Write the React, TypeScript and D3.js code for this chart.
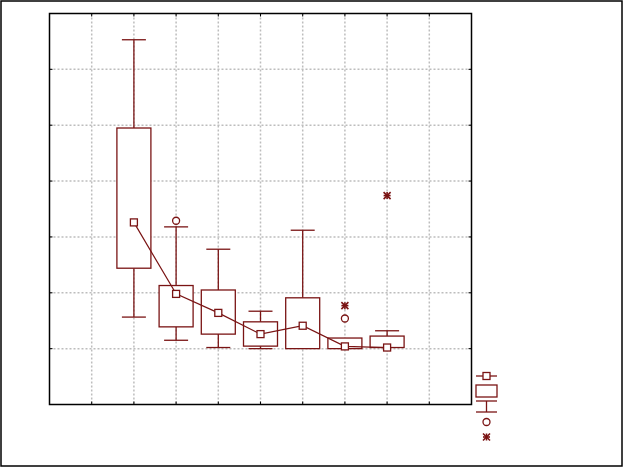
import React from "react";
import * as d3 from "d3";

const categories = ["1", "2", "3", "4", "5", "6", "7"];
const positions = [2, 3, 4, 5, 6, 7, 8];
const means = [2.26, 0.98, 0.64, 0.26, 0.41, 0.04, 0.02];
const q1 = [1.44, 0.39, 0.26, 0.045, 0.0, 0.0, 0.02];
const q3 = [3.95, 1.13, 1.05, 0.48, 0.91, 0.19, 0.225];
const whiskerLow = [0.565, 0.15, 0.02, 0.0, 0.0, 0.0, 0.02];
const whiskerHigh = [5.53, 2.18, 1.78, 0.67, 2.12, 0.19, 0.32];
const outlierCat = [1, 5];
const outlierVal = [2.29, 0.54];
const extremeCat = [5, 6];
const extremeVal = [0.77, 2.74];
const xTicks = [0, 1, 2, 3, 4, 5, 6, 7, 8, 9, 10];
const yTicks = [-1, 0, 1, 2, 3, 4, 5, 6];

const COLOR = "#7a1414";
const W = 624, H = 468;
const L = 49.5, R = 471.5, T = 13.5, B = 404.5;

function Star({ cx, cy }: { cx: number; cy: number }) {
  const s = 3.5;
  return (
    <g stroke={COLOR} strokeWidth={1.6}>
      <line x1={cx - s} y1={cy} x2={cx + s} y2={cy} />
      <line x1={cx} y1={cy - s} x2={cx} y2={cy + s} />
      <line x1={cx - s} y1={cy - s} x2={cx + s} y2={cy + s} />
      <line x1={cx - s} y1={cy + s} x2={cx + s} y2={cy - s} />
    </g>
  );
}

export default function App() {
  const x = d3.scaleLinear().domain([0, 10]).range([L, R]);
  const y = d3.scaleLinear().domain([-1, 6]).range([B, T]);
  const bw = 17, cw = 12, ms = 3.5;
  const line = d3.line<number>().x((_, i) => x(positions[i])).y((d) => y(d));

  return (
    <svg width={W} height={H} style={{ position: "absolute", left: 0, top: 0 }}>
      <rect x={0} y={0} width={W} height={H} fill="#fff" />
      <rect x={1} y={1} width={621} height={465} fill="none" stroke="#000" strokeWidth={1.5} />
      {/* grid */}
      <g stroke="#bdbdbd" strokeWidth={1.5} strokeDasharray="2,2">
        {xTicks.slice(1, -1).map((t) => (
          <line key={"gx" + t} x1={x(t)} x2={x(t)} y1={T} y2={B} />
        ))}
        {yTicks.slice(1, -1).map((t) => (
          <line key={"gy" + t} x1={L} x2={R} y1={y(t)} y2={y(t)} />
        ))}
      </g>
      {/* ticks */}
      <g stroke="#000" strokeWidth={1}>
        {xTicks.slice(1, -1).map((t) => (
          <g key={"tx" + t}>
            <line x1={x(t)} x2={x(t)} y1={T} y2={T + 3} />
            <line x1={x(t)} x2={x(t)} y1={B} y2={B - 3} />
          </g>
        ))}
        {yTicks.slice(1, -1).map((t) => (
          <g key={"ty" + t}>
            <line x1={L} x2={L + 3} y1={y(t)} y2={y(t)} />
            <line x1={R} x2={R - 3} y1={y(t)} y2={y(t)} />
          </g>
        ))}
      </g>
      <rect x={L} y={T} width={R - L} height={B - T} fill="none" stroke="#000" strokeWidth={1.5} />
      {/* boxes */}
      <g stroke={COLOR} strokeWidth={1.3} fill="none">
        {categories.map((c, i) => {
          const cx = x(positions[i]);
          return (
            <g key={"b" + c}>
              {whiskerHigh[i] > q3[i] && (
                <>
                  <line x1={cx} x2={cx} y1={y(q3[i])} y2={y(whiskerHigh[i])} />
                  <line x1={cx - cw} x2={cx + cw} y1={y(whiskerHigh[i])} y2={y(whiskerHigh[i])} />
                </>
              )}
              {whiskerLow[i] < q1[i] && (
                <>
                  <line x1={cx} x2={cx} y1={y(q1[i])} y2={y(whiskerLow[i])} />
                  <line x1={cx - cw} x2={cx + cw} y1={y(whiskerLow[i])} y2={y(whiskerLow[i])} />
                </>
              )}
              <rect x={cx - bw} y={y(q3[i])} width={2 * bw} height={y(q1[i]) - y(q3[i])} fill="#fff" />
            </g>
          );
        })}
      </g>
      <path d={line(means) || ""} fill="none" stroke={COLOR} strokeWidth={1.2} />
      <g stroke={COLOR} strokeWidth={1.3} fill="#fff">
        {means.map((m, i) => (
          <rect key={"m" + i} x={x(positions[i]) - ms} y={y(m) - ms} width={2 * ms} height={2 * ms} />
        ))}
        {outlierCat.map((c, i) => (
          <circle key={"o" + i} cx={x(positions[c])} cy={y(outlierVal[i])} r={3.5} />
        ))}
      </g>
      {extremeCat.map((c, i) => (
        <Star key={"e" + i} cx={x(positions[c])} cy={y(extremeVal[i])} />
      ))}
      {/* legend */}
      <g stroke={COLOR} strokeWidth={1.3} fill="#fff">
        <line x1={476} x2={497} y1={376} y2={376} />
        <rect x={483} y={372.5} width={7} height={7} />
        <rect x={476} y={385} width={21} height={12} />
        <line x1={476} x2={497} y1={401} y2={401} />
        <line x1={486.5} x2={486.5} y1={401} y2={412} />
        <line x1={476} x2={497} y1={412} y2={412} />
        <circle cx={486.5} cy={422} r={3.5} />
      </g>
      <Star cx={486.5} cy={437} />
    </svg>
  );
}
